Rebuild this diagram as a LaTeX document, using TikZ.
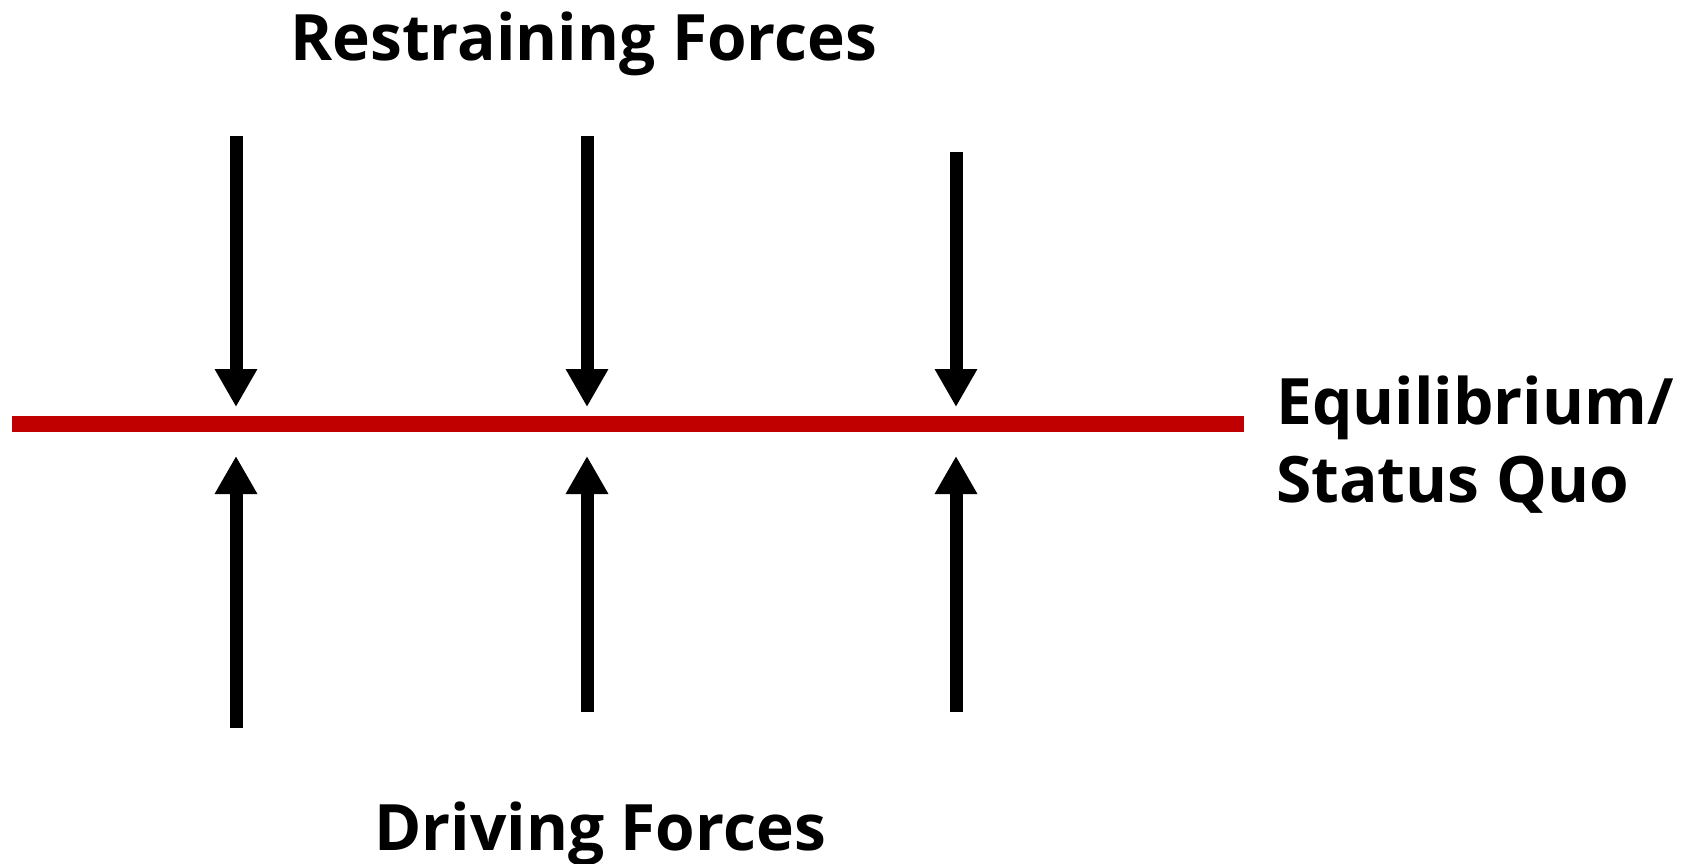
\documentclass[tikz,border=0pt]{standalone}
\usepackage{fontspec}
\newfontfamily\lblfont{Open Sans}[UprightFont={* Bold}]
\usetikzlibrary{arrows.meta}
\definecolor{eqred}{HTML}{C00000}
\tikzset{
  force/.style={line width=13pt, line cap=butt, -{Triangle[width=40pt,length=38pt]}},
  lbl/.style={inner sep=0pt, anchor=base west, font=\lblfont\fontsize{64}{78}\selectfont},
}
\begin{document}
\begin{tikzpicture}[x=1pt,y=-1pt]
\useasboundingbox (0,0) rectangle (1683,863);
% equilibrium line
\coordinate (L) at (12,424);
\coordinate (R) at (1244,424);
\draw[eqred, line width=16pt] (L) -- (R);
% restraining forces (downwards)
\coordinate (r1s) at (236,136); \coordinate (r1e) at (236,407);
\coordinate (r2s) at (587,136); \coordinate (r2e) at (587,407);
\coordinate (r3s) at (956,152); \coordinate (r3e) at (956,407);
\draw[force] (r1s) -- (r1e);
\draw[force] (r2s) -- (r2e);
\draw[force] (r3s) -- (r3e);
% driving forces (upwards)
\coordinate (d1s) at (236,728); \coordinate (d1e) at (236,456);
\coordinate (d2s) at (587,712); \coordinate (d2e) at (587,456);
\coordinate (d3s) at (956,712); \coordinate (d3e) at (956,456);
\draw[force] (d1s) -- (d1e);
\draw[force] (d2s) -- (d2e);
\draw[force] (d3s) -- (d3e);
% labels
\node[lbl] (rest) at (290,60) {Restraining Forces};
\node[lbl] (drive) at (374,850) {Driving Forces};
\node[lbl] (eq1) at (1276,424) {Equilibrium/};
\node[lbl] (eq2) at (1276,502) {Status Quo};
\end{tikzpicture}
\end{document}
